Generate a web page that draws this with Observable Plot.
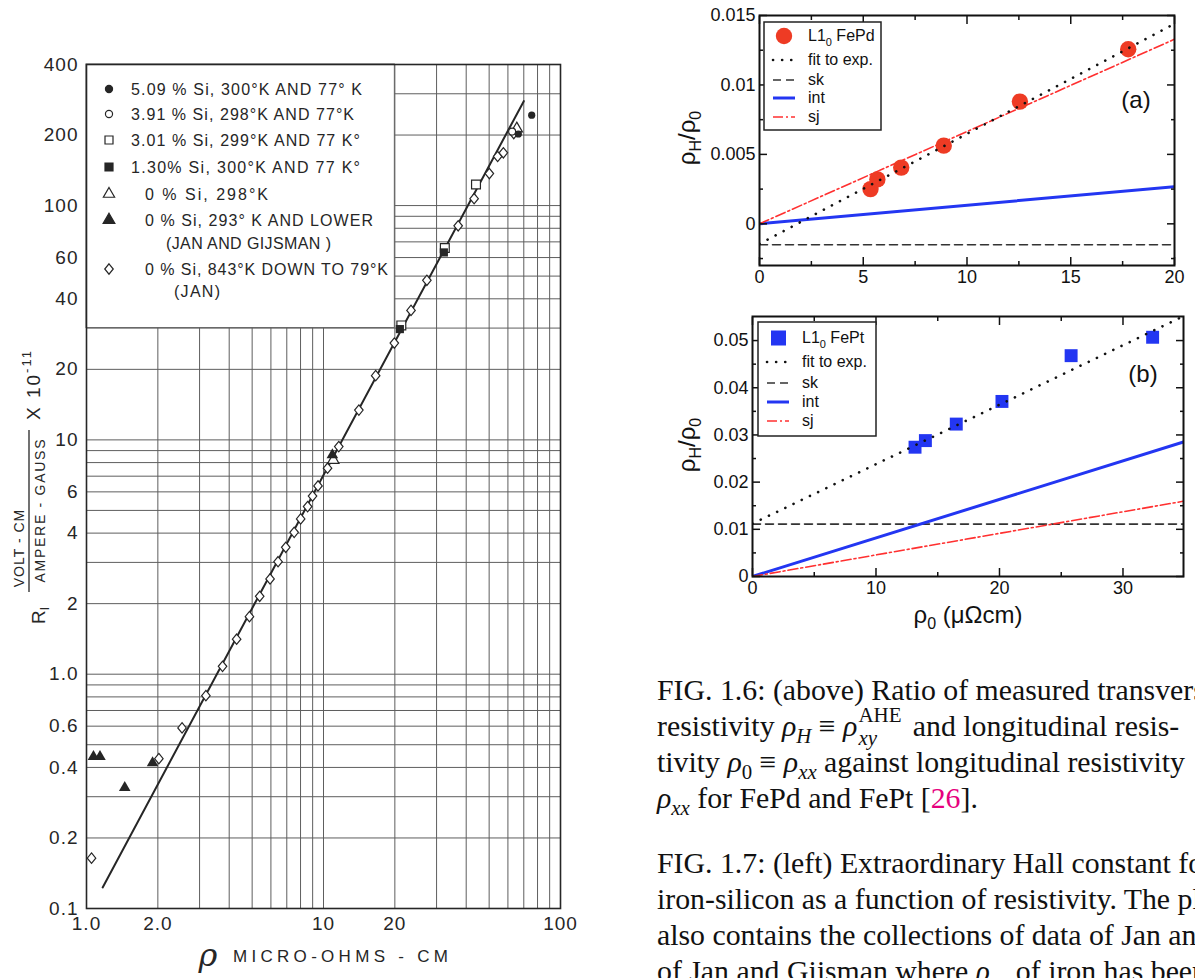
<!DOCTYPE html>
<html><head><meta charset="utf-8">
<script src="https://cdn.jsdelivr.net/npm/d3@7"></script>
<script src="https://cdn.jsdelivr.net/npm/@observablehq/plot@0.6"></script>
<style>
body{margin:0;background:#fff;width:1195px;height:978px;overflow:hidden;position:relative;}
.abs{position:absolute;}
.cap{font-family:"Liberation Serif","DejaVu Serif",serif;font-size:29.8px;line-height:36px;white-space:nowrap;color:#111;}
.cap sub,.cap sup{font-size:70%;line-height:0;}
.ss{display:inline-block;position:relative;width:48px;height:0;}
.ss .up{position:absolute;left:1px;bottom:10px;font-size:21px;line-height:21px;}
.ss .dn{position:absolute;left:1px;top:-8px;font-size:21px;line-height:21px;font-style:italic;}
.ref{color:#e6007e;}
</style></head><body>
<div id="left" class="abs" style="left:0;top:0;width:600px;height:978px"></div>
<div id="pa" class="abs" style="left:600px;top:0;width:595px;height:300px"></div>
<div id="pb" class="abs" style="left:600px;top:300px;width:595px;height:340px"></div>
<div class="abs cap" style="left:657px;top:672px">
<div>FIG. 1.6: (above) Ratio of measured transverse</div>
<div>resistivity <i>ρ<sub>H</sub></i> ≡ <i>ρ</i><span class="ss"><span class="up">AHE</span><span class="dn">xy</span></span> and longitudinal resis-</div>
<div>tivity <i>ρ</i><sub>0</sub> ≡ <i>ρ<sub>xx</sub></i> against longitudinal resistivity</div>
<div><i>ρ<sub>xx</sub></i> for FePd and FePt [<span class="ref">26</span>].</div>
</div>
<div class="abs cap" style="left:657px;top:845px">
<div>FIG. 1.7: (left) Extraordinary Hall constant for</div>
<div>iron-silicon as a function of resistivity. The plot</div>
<div>also contains the collections of data of Jan and</div>
<div>of Jan and Gijsman where <i>ρ<sub>xx</sub></i> of iron has been</div>
</div>
<script>
// ================= DATA =================
// FIG 1.7 (left): R1 (x 1e-11 V·cm/(A·G)) vs rho (µΩ·cm), log–log
const fitRho = [1.17, 70];
const fitR1 = [0.123, 279];
const si509Rho = [66.4, 75.6];            const si509R1 = [202, 243];
const si391Rho = [62.5];                  const si391R1 = [207];
const si301Rho = [21.3, 32.5, 44.0];      const si301R1 = [30.8, 65.9, 123];
const si130Rho = [21.0, 32.2];            const si130R1 = [29.7, 63.1];
const fe298Rho = [11.0, 65.4];            const fe298R1 = [8.2, 213];
const feJGRho = [1.07, 1.14, 1.45, 1.90, 10.9];
const feJGR1  = [0.445, 0.445, 0.328, 0.418, 8.63];
const feJanRho = [1.05, 2.02, 2.53, 3.19, 3.75, 4.30, 4.87, 5.38, 5.95, 6.43, 6.93, 7.52, 8.01, 8.57, 8.99, 9.48, 10.4, 11.6, 14.1, 16.6, 19.9, 23.4, 27.3, 37.0, 43.2, 50.1, 54.3, 57.4, 63.5];
const feJanR1  = [0.164, 0.436, 0.59, 0.81, 1.08, 1.41, 1.76, 2.15, 2.55, 3.02, 3.48, 4.03, 4.6, 5.19, 5.76, 6.36, 7.57, 9.36, 13.4, 18.8, 25.9, 35.7, 48, 82, 107, 137, 162, 168, 203];
const legendLabelsLeft = [
  ["5.09 % Si, 300°K AND 77° K"],
  ["3.91 % Si, 298°K AND 77°K"],
  ["3.01 % Si, 299°K AND 77 K°"],
  ["1.30% Si, 300°K AND 77 K°"],
  ["0 % Si, 298°K"],
  ["0 % Si, 293° K AND LOWER", "(JAN AND GIJSMAN )"],
  ["0 % Si, 843°K DOWN TO 79°K", "(JAN)"]
];
const xTicksLeft = [1, 2, 4, 6, 10, 20, 40, 60, 100];
const xTickLabelsLeft = ["1.0", "2.0", "4.0", "6.0", "10", "20", "40", "60", "100"];
const yTicksLeft = [0.1, 0.2, 0.4, 0.6, 0.8, 1, 2, 4, 6, 8, 10, 20, 40, 60, 80, 100, 200, 400];
const yTickLabelsLeft = ["0.1", "0.2", "0.4", "0.6", "0.8", "1.0", "2", "4", "6", "8", "10", "20", "40", "60", "80", "100", "200", "400"];
const gridRhoLeft = [2, 3, 4, 5, 6, 7, 8, 9, 10, 20, 30, 40, 50, 60, 70, 80, 90];
const gridR1Left = [0.2, 0.3, 0.4, 0.5, 0.6, 0.7, 0.8, 0.9, 1, 2, 3, 4, 5, 6, 7, 8, 9, 10, 20, 30, 40, 50, 60, 70, 80, 90, 100, 200, 300];

// FIG 1.6 (a): L1_0 FePd, rhoH/rho0 vs rho0
const fepdRho = [5.35, 5.68, 6.83, 8.88, 12.55, 17.77];
const fepdRatio = [0.0025, 0.0032, 0.00405, 0.00563, 0.0088, 0.01257];
const lineRhoA = [0, 20];
const fitA = [-0.00144, 0.0144];
const skA = [-0.00151, -0.00151];
const intA = [0, 0.00268];
const sjA = [0, 0.01329];
// FIG 1.6 (b): L1_0 FePt
const feptRho = [13.16, 14.0, 16.5, 20.2, 25.8, 32.4];
const feptRatio = [0.0274, 0.0288, 0.0323, 0.0371, 0.0468, 0.0507];
const lineRhoB = [0, 35];
const fitB = [0.0112, 0.0553];
const skB = [0.0111, 0.0111];
const intB = [0, 0.0286];
const sjB = [0, 0.016];
const legendLabelsRight = ["fit to exp.", "sk", "int", "sj"];

// ================= HELPERS =================
const pts = (xs, ys) => xs.map((x, i) => ({x, y: ys[i]}));
const ink = "#262626";
const leftFont = "'Liberation Sans', Arial, sans-serif";
const diamondSym = {draw(ctx, size) { const h = Math.sqrt(size) * 0.75, w = h * 0.82; ctx.moveTo(0, -h); ctx.lineTo(w, 0); ctx.lineTo(0, h); ctx.lineTo(-w, 0); ctx.closePath(); }};

// ================= LEFT CHART =================
const lx = new Map(xTicksLeft.map((v, i) => [v, xTickLabelsLeft[i]]));
const ly = new Map(yTicksLeft.map((v, i) => [v, yTickLabelsLeft[i]]));
const left = Plot.plot({
  width: 600, height: 978, marginLeft: 86, marginRight: 40, marginTop: 64, marginBottom: 70,
  x: {type: "log", domain: [1, 100]},
  y: {type: "log", domain: [0.1, 400]},
  style: {fontFamily: leftFont, fontSize: "19px", color: ink, background: "white", letterSpacing: "1px"},
  marks: [
    Plot.ruleX(gridRhoLeft, {stroke: "#5e5e5e", strokeWidth: 1}),
    Plot.ruleY(gridR1Left, {stroke: "#5e5e5e", strokeWidth: 1}),
    Plot.line(pts(fitRho, fitR1), {x: "x", y: "y", stroke: ink, strokeWidth: 2}),
    Plot.dot(pts(feJanRho, feJanR1), {x: "x", y: "y", symbol: diamondSym, r: 3.9, fill: "white", stroke: ink, strokeWidth: 1.2}),
    Plot.dot(pts(si301Rho, si301R1), {x: "x", y: "y", symbol: "square", r: 5, fill: "white", stroke: ink, strokeWidth: 1.2}),
    Plot.dot(pts(si130Rho, si130R1), {x: "x", y: "y", symbol: "square", r: 4.6, fill: ink}),
    Plot.dot(pts(fe298Rho, fe298R1), {x: "x", y: "y", symbol: "triangle", r: 4.2, fill: "white", stroke: ink, strokeWidth: 1.2}),
    Plot.dot(pts(feJGRho, feJGR1), {x: "x", y: "y", symbol: "triangle", r: 4.3, fill: ink}),
    Plot.dot(pts(si391Rho, si391R1), {x: "x", y: "y", symbol: "circle", r: 3.5, fill: "white", stroke: ink, strokeWidth: 1.2}),
    Plot.dot(pts(si509Rho, si509R1), {x: "x", y: "y", symbol: "circle", r: 3.6, fill: ink}),
    Plot.frame({stroke: ink, strokeWidth: 1.6}),
    Plot.axisX(xTicksLeft, {anchor: "bottom", tickSize: 0, tickPadding: 8, tickFormat: d => lx.get(d), label: null}),
    Plot.axisY(yTicksLeft, {anchor: "left", tickSize: 0, tickPadding: 8, tickFormat: d => ly.get(d), label: null})
  ]
});
document.getElementById("left").append(left);
{
  const sx = left.scale("x"), sy = left.scale("y");
  const lineG = left.querySelector('g[aria-label="line"]');
  const box = d3.create("svg:rect")
    .attr("x", sx.apply(1)).attr("y", sy.apply(400))
    .attr("width", sx.apply(20) - sx.apply(1)).attr("height", sy.apply(30) - sy.apply(400))
    .attr("fill", "white").attr("stroke", "#5e5e5e");
  left.insertBefore(box.node(), lineG);
  const s = d3.select(left);
  const g = s.append("g").attr("font-family", leftFont).attr("fill", ink).attr("font-size", 16)
    .attr("text-anchor", "start").attr("letter-spacing", "0px");
  const rowsY = [89, 114, 140, 167, 194, 220, 269];
  const rowsX = [131, 131, 131, 131, 145, 145, 145];
  const rowsLen = [231, 223, 229, 229, 123, 228, 243];
  const syms = [
    {t: d3.symbolCircle, s: 40, f: ink}, {t: d3.symbolCircle, s: 40, f: "white"},
    {t: d3.symbolSquare, s: 64, f: "white"}, {t: d3.symbolSquare, s: 64, f: ink},
    {t: d3.symbolTriangle, s: 55, f: "white"}, {t: d3.symbolTriangle, s: 60, f: ink},
    {t: diamondSym, s: 48, f: "white"}
  ];
  legendLabelsLeft.forEach((lab, i) => {
    g.append("path").attr("transform", `translate(109,${rowsY[i]})`)
      .attr("d", d3.symbol(syms[i].t, syms[i].s)()).attr("fill", syms[i].f).attr("stroke", ink).attr("stroke-width", 1.2);
    g.append("text").attr("x", rowsX[i]).attr("y", rowsY[i]).attr("dy", "0.36em")
      .attr("textLength", rowsLen[i]).attr("lengthAdjust", "spacing").text(lab[0]);
    if (lab[1]) {
      const x2 = i === 5 ? 166 : 174, len2 = i === 5 ? 165 : 46;
      g.append("text").attr("x", x2).attr("y", rowsY[i] + (i === 5 ? 23 : 22)).attr("dy", "0.36em")
        .attr("textLength", len2).attr("lengthAdjust", "spacing").text(lab[1]);
    }
  });
  // y-axis title
  const t = s.append("g").attr("font-family", leftFont).attr("fill", ink).attr("text-anchor", "start").attr("letter-spacing", "0px");
  const rt = t.append("text").attr("transform", "translate(45,624) rotate(-90)").attr("font-size", 19);
  rt.append("tspan").text("R");
  rt.append("tspan").attr("font-size", 12).attr("dy", 4).text("I");
  t.append("text").attr("transform", "translate(24,548) rotate(-90)").attr("text-anchor", "middle").attr("font-size", 14)
    .attr("letter-spacing", "1px").text("VOLT - CM");
  t.append("line").attr("x1", 29).attr("x2", 29).attr("y1", 430).attr("y2", 592).attr("stroke", ink).attr("stroke-width", 1.3);
  t.append("text").attr("transform", "translate(45,511) rotate(-90)").attr("text-anchor", "middle").attr("font-size", 14)
    .attr("textLength", 143).attr("lengthAdjust", "spacing").text("AMPERE - GAUSS");
  const xt = t.append("text").attr("transform", "translate(40,420) rotate(-90)").attr("font-size", 19).attr("letter-spacing", "2px");
  xt.append("tspan").text("X 10");
  xt.append("tspan").attr("font-size", 13).attr("dy", -9).text("-11");
  // x-axis title
  t.append("text").attr("x", 208).attr("y", 966).attr("text-anchor", "middle").attr("font-size", 32)
    .attr("font-family", "'DejaVu Serif', serif").attr("font-style", "italic").text("ρ");
  t.append("text").attr("x", 233).attr("y", 962).attr("font-size", 17)
    .attr("textLength", 215).attr("lengthAdjust", "spacing").text("MICRO-OHMS - CM");
}

// ================= RIGHT CHARTS =================
const rFont = "'Liberation Sans', Arial, sans-serif";
function inward(xMajor, xMinor, yMajor, yMinor) {
  const o = (size) => ({tickSize: size, tickFormat: () => "", label: null, strokeWidth: 1.5});
  return [
    Plot.axisX(xMajor, {anchor: "bottom", dy: -8, ...o(8)}),
    Plot.axisX(xMinor, {anchor: "bottom", dy: -4, ...o(4)}),
    Plot.axisX(xMajor, {anchor: "top", dy: 8, ...o(8)}),
    Plot.axisX(xMinor, {anchor: "top", dy: 4, ...o(4)}),
    Plot.axisY(yMajor, {anchor: "left", dx: 8, ...o(8)}),
    Plot.axisY(yMinor, {anchor: "left", dx: 4, ...o(4)}),
    Plot.axisY(yMajor, {anchor: "right", dx: -8, ...o(8)}),
    Plot.axisY(yMinor, {anchor: "right", dx: -4, ...o(4)}),
    Plot.axisX(xMajor, {anchor: "bottom", tickSize: 0, tickPadding: 5, tickFormat: d => String(d), label: null}),
    Plot.axisY(yMajor, {anchor: "left", tickSize: 0, tickPadding: 4, tickFormat: d => String(d), label: null})
  ];
}
const cRed = "#ee3b24", cRedLine = "#ff3030", cBlue = "#2336f2", cDash = "#333";
const styleR = {fontFamily: rFont, fontSize: "18px", color: "#111", background: "white"};

function lineMarks(xs, fit, sk, int, sj) {
  return {
    sk: Plot.line(pts(xs, sk), {x: "x", y: "y", stroke: cDash, strokeWidth: 1.6, strokeDasharray: "8,5", clip: true}),
    int: Plot.line(pts(xs, int), {x: "x", y: "y", stroke: cBlue, strokeWidth: 3, clip: true}),
    sj: Plot.line(pts(xs, sj), {x: "x", y: "y", stroke: cRedLine, strokeWidth: 1.6, strokeDasharray: "10,3,2,3", clip: true}),
    fit: Plot.line(pts(xs, fit), {x: "x", y: "y", stroke: "#111", strokeWidth: 2.6, strokeDasharray: "0.1,9", strokeLinecap: "round", clip: true})
  };
}
const LA = lineMarks(lineRhoA, fitA, skA, intA, sjA);
const pa = Plot.plot({
  width: 595, height: 300, marginLeft: 159, marginRight: 21, marginTop: 15, marginBottom: 35,
  x: {domain: [0, 20]}, y: {domain: [-0.003, 0.015]}, style: styleR,
  marks: [
    LA.sk, LA.int, LA.sj,
    Plot.dot(pts(fepdRho, fepdRatio), {x: "x", y: "y", r: 8.2, fill: cRed}),
    LA.fit,
    ...inward([0, 5, 10, 15, 20], [2.5, 7.5, 12.5, 17.5], [0, 0.005, 0.01, 0.015], [-0.0025, 0.0025, 0.0075, 0.0125]),
    Plot.frame({stroke: "#111", strokeWidth: 2})
  ]
});
document.getElementById("pa").append(pa);

const LB = lineMarks(lineRhoB, fitB, skB, intB, sjB);
const pb = Plot.plot({
  width: 595, height: 340, marginLeft: 152, marginRight: 12, marginTop: 16, marginBottom: 64,
  x: {domain: [0, 34.9]}, y: {domain: [0, 0.0551]}, style: styleR,
  marks: [
    LB.sk, LB.int, LB.sj,
    Plot.dot(pts(feptRho, feptRatio), {x: "x", y: "y", symbol: "square", r: 7.3, fill: cBlue}),
    LB.fit,
    ...inward([0, 10, 20, 30], [5, 15, 25], [0, 0.01, 0.02, 0.03, 0.04, 0.05], [0.005, 0.015, 0.025, 0.035, 0.045]),
    Plot.frame({stroke: "#111", strokeWidth: 2})
  ]
});
document.getElementById("pb").append(pb);

function decorate(svg, {box, rowsY, sym, name, tag, tagPos, yTitle}) {
  const s = d3.select(svg);
  const g = s.append("g").attr("font-family", rFont).attr("font-size", 16).attr("fill", "#111").attr("text-anchor", "start");
  g.append("rect").attr("x", box[0]).attr("y", box[1]).attr("width", box[2]).attr("height", box[3])
    .attr("fill", "white").attr("stroke", "#222").attr("stroke-width", 1.5);
  const sx0 = box[0] + 9, sx1 = box[0] + 31, tx = box[0] + 44;
  if (sym === "circle") g.append("circle").attr("cx", box[0] + 20).attr("cy", rowsY[0]).attr("r", 8.2).attr("fill", cRed);
  else g.append("rect").attr("x", box[0] + 13).attr("y", rowsY[0] - 7.5).attr("width", 15).attr("height", 15).attr("fill", cBlue);
  const nt = g.append("text").attr("x", tx).attr("y", rowsY[0]).attr("dy", "0.32em");
  nt.append("tspan").text("L1");
  nt.append("tspan").attr("font-size", 11).attr("dy", 5).text("0");
  nt.append("tspan").attr("dy", -5).text(" " + name);
  const styles = [
    {stroke: "#111", w: 2.6, dash: "0.1,9", cap: "round"},
    {stroke: cDash, w: 1.6, dash: "8,5"},
    {stroke: cBlue, w: 3, dash: null},
    {stroke: cRedLine, w: 1.6, dash: "10,3,2,3"}
  ];
  legendLabelsRight.forEach((lab, i) => {
    const y = rowsY[i + 1];
    g.append("line").attr("x1", sx0).attr("x2", sx1).attr("y1", y).attr("y2", y)
      .attr("stroke", styles[i].stroke).attr("stroke-width", styles[i].w)
      .attr("stroke-dasharray", styles[i].dash).attr("stroke-linecap", styles[i].cap || null);
    g.append("text").attr("x", tx).attr("y", y).attr("dy", "0.32em").text(lab);
  });
  s.append("text").attr("x", tagPos[0]).attr("y", tagPos[1]).attr("dy", "0.35em").attr("text-anchor", "middle")
    .attr("font-family", rFont).attr("font-size", 24).attr("fill", "#111").text(tag);
  const yt = s.append("text").attr("transform", `translate(${yTitle[0]},${yTitle[1]}) rotate(-90)`).attr("text-anchor", "middle")
    .attr("font-family", rFont).attr("font-size", 24).attr("fill", "#111");
  yt.append("tspan").text("ρ");
  yt.append("tspan").attr("font-size", 16).attr("dy", 6).text("H");
  yt.append("tspan").attr("dy", -6).text("/ρ");
  yt.append("tspan").attr("font-size", 16).attr("dy", 6).text("0");
  return s;
}
decorate(pa, {box: [164, 22, 117, 108], rowsY: [36, 60, 80, 98, 117], sym: "circle", name: "FePd", tag: "(a)", tagPos: [536, 100], yTitle: [95, 138]});
const sb = decorate(pb, {box: [158, 22, 118, 114], rowsY: [38, 62, 83, 102, 121], sym: "square", name: "FePt", tag: "(b)", tagPos: [543, 74], yTitle: [95, 145]});
const xt = sb.append("text").attr("x", 368).attr("y", 323).attr("text-anchor", "middle")
  .attr("font-family", rFont).attr("font-size", 24).attr("fill", "#111");
xt.append("tspan").text("ρ");
xt.append("tspan").attr("font-size", 16).attr("dy", 6).text("0");
xt.append("tspan").attr("dy", -6).text(" (μΩcm)");
</script>
</body></html>
